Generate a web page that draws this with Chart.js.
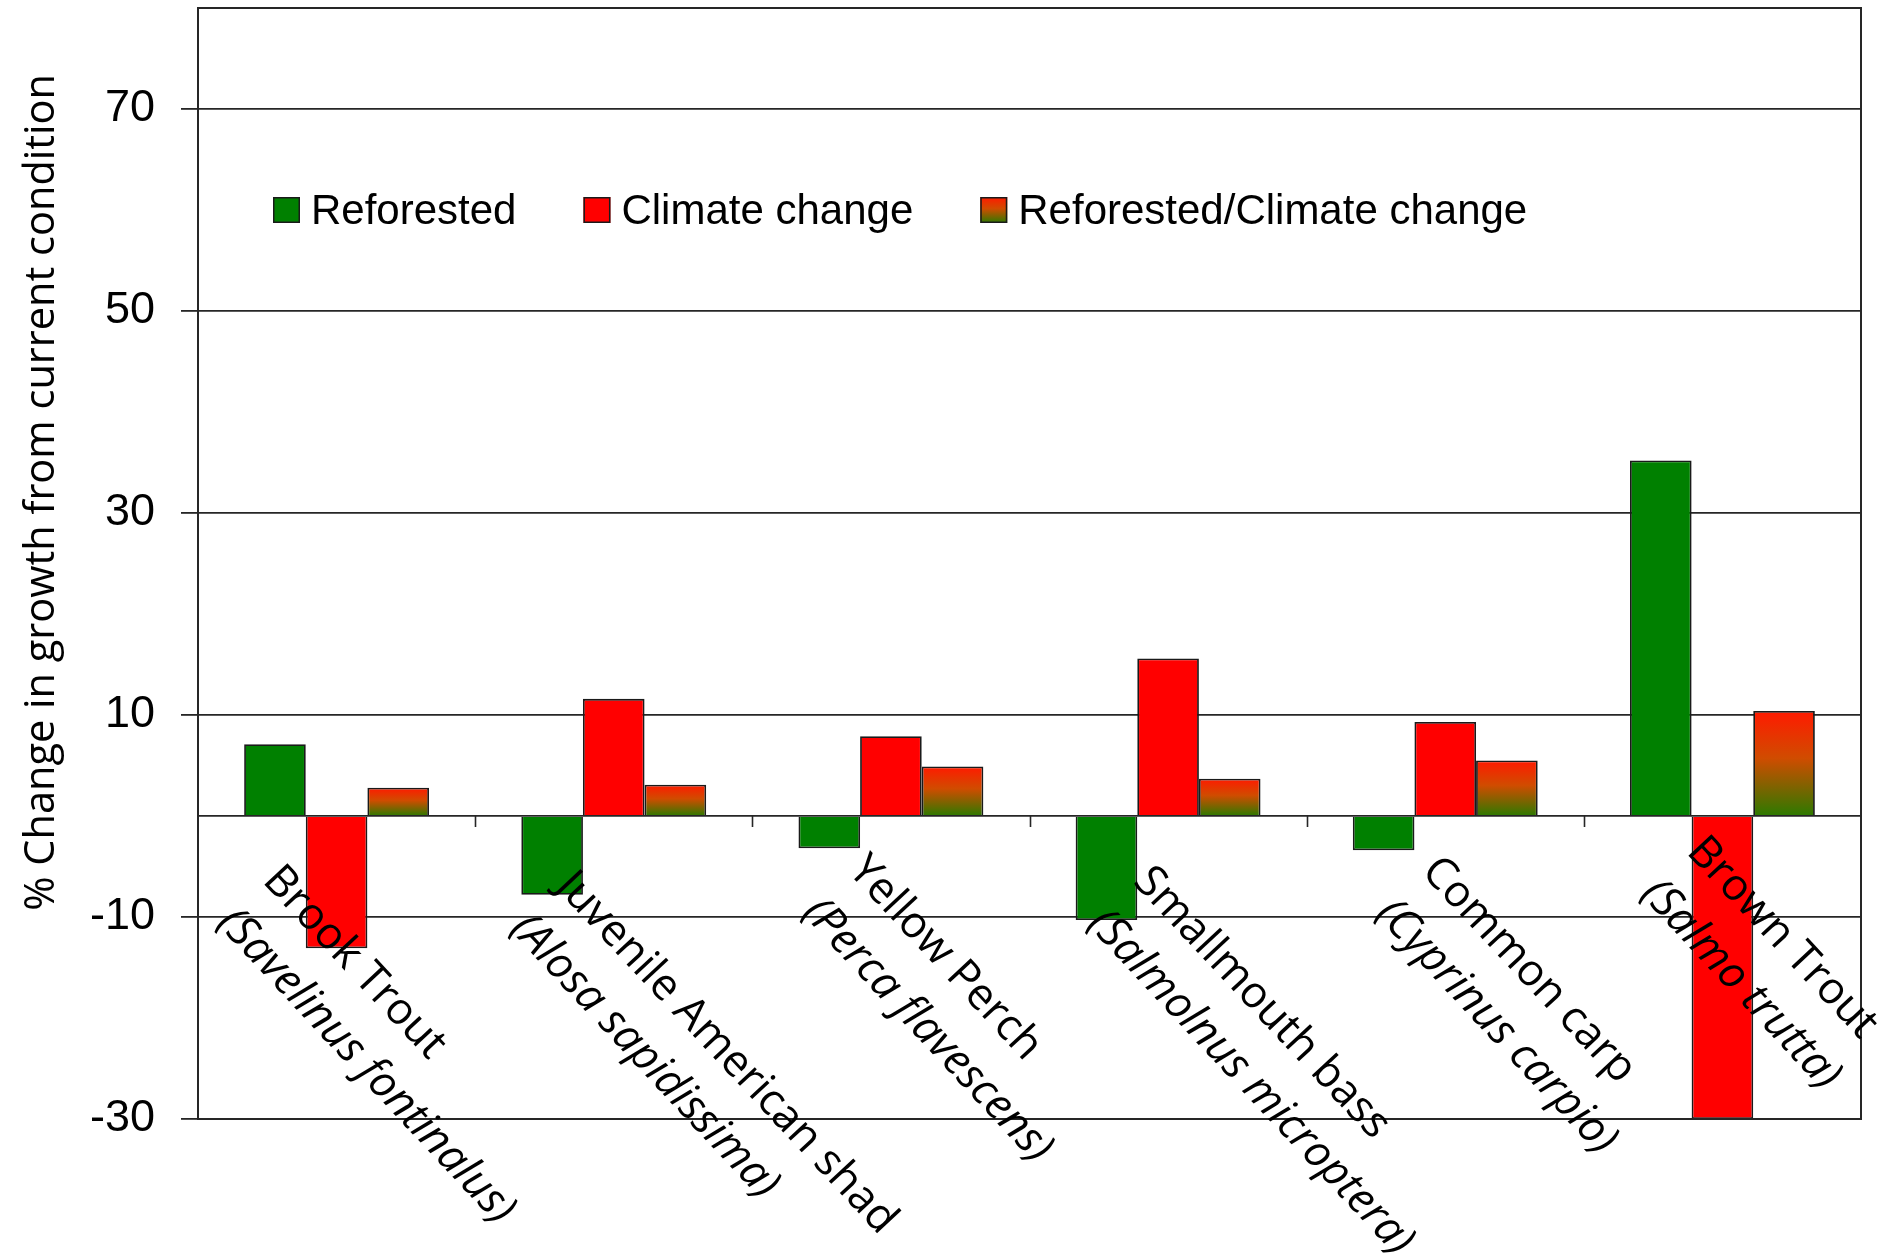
<!DOCTYPE html>
<html>
<head>
<meta charset="utf-8">
<title>Fish growth change</title>
<script src="https://cdn.jsdelivr.net/npm/chart.js@4.4.1/dist/chart.umd.min.js"></script>
<style>
  html, body { margin: 0; padding: 0; background: #ffffff; }
  #wrap { position: relative; width: 1878px; height: 1253px; }
</style>
</head>
<body>
<div id="wrap"><canvas id="chart"></canvas></div>
<script>
// Species (common name, scientific name)
const species = [
  ['Brook Trout', '(Savelinus fontinalus)'],
  ['Juvenile American shad', '(Alosa sapidissima)'],
  ['Yellow Perch', '(Perca flavescens)'],
  ['Smallmouth bass', '(Salmolnus microptera)'],
  ['Common carp', '(Cyprinus carpio)'],
  ['Brown Trout', '(Salmo trutta)']
];
const seriesNames = ['Reforested', 'Climate change', 'Reforested/Climate change'];
// % change in growth from current condition
const reforested        = [7.1, -7.8, -3.2, -10.3, -3.4, 35.2];
const climateChange     = [-13.1, 11.6, 7.9, 15.6, 9.3, -30];
const reforestedClimate = [2.8, 3.1, 4.9, 3.7, 5.5, 10.4];
const yTickValues = [-30, -10, 10, 30, 50, 70];
const yMin = -30;
const yMax = 80;

const AXIS_FONT = '"Liberation Sans", Arial, sans-serif';
const LABEL_FONT = '"Open Sans", sans-serif';
const LINE_COLOR = '#262626';

// red-over-green fill used by the combined scenario
function addRedGreenStops(g) {
  g.addColorStop(0, '#ff1a00');
  g.addColorStop(0.45, '#d04c00');
  g.addColorStop(1, '#2c7a00');
  return g;
}

function combinedFill(context) {
  const chart = context.chart;
  const { ctx, chartArea, scales } = chart;
  if (!chartArea || !scales.y || context.type !== 'data') return '#c85000';
  const y0 = scales.y.getPixelForValue(0);
  const y1 = scales.y.getPixelForValue(context.raw);
  const top = Math.min(y0, y1), bottom = Math.max(y0, y1);
  if (bottom - top < 1) return '#c85000';
  return addRedGreenStops(ctx.createLinearGradient(0, top, 0, bottom));
}

// plot frame, zero-line category ticks
const framePlugin = {
  id: 'frame',
  beforeDatasetsDraw(chart) {
    const { ctx, scales } = chart;
    const x = scales.x, y = scales.y;
    const zero = y.getPixelForValue(0);
    ctx.save();
    ctx.strokeStyle = LINE_COLOR;
    ctx.lineWidth = 1.6;
    for (let i = 1; i < species.length; i++) {
      const bx = Math.round((x.getPixelForValue(i - 1) + x.getPixelForValue(i)) / 2) + 0.5;
      ctx.beginPath();
      ctx.moveTo(bx, zero);
      ctx.lineTo(bx, zero + 11);
      ctx.stroke();
    }
    ctx.restore();
  },
  afterDatasetsDraw(chart) {
    const { ctx, chartArea: a } = chart;
    ctx.save();
    ctx.strokeStyle = LINE_COLOR;
    ctx.lineWidth = 2;
    ctx.strokeRect(a.left, a.top, a.right - a.left, a.bottom - a.top);
    ctx.restore();
  }
};

// rotated two-line species labels (common name upright, scientific name italic)
const speciesLabelPlugin = {
  id: 'speciesLabels',
  afterDatasetsDraw(chart, args, opts) {
    const { ctx, scales } = chart;
    const zero = scales.y.getPixelForValue(0);
    const size = opts.size;
    const capH = size * 0.714;
    ctx.save();
    ctx.fillStyle = '#000000';
    ctx.textAlign = 'left';
    ctx.textBaseline = 'alphabetic';
    species.forEach((lines, i) => {
      const n = opts.nudge[i];
      const ax = scales.x.getPixelForValue(i) + n[0];
      const ay = zero + n[1];
      ctx.save();
      ctx.translate(ax, ay);
      ctx.rotate(opts.angle * Math.PI / 180);
      ctx.font = size + 'px ' + LABEL_FONT;
      ctx.fillText(lines[0], 0, capH);
      ctx.font = 'italic ' + size + 'px ' + LABEL_FONT;
      ctx.fillText(lines[1], 0, capH + opts.lineGap);
      ctx.restore();
    });
    ctx.restore();
  }
};

// legend row inside the plot
const legendRowPlugin = {
  id: 'legendRow',
  afterDatasetsDraw(chart, args, opts) {
    const { ctx, chartArea: a } = chart;
    let x = a.left + opts.offsetX;
    const cy = a.top + opts.offsetY;
    const bw = 27, bh = 26;
    ctx.save();
    ctx.font = opts.size + 'px ' + AXIS_FONT;
    ctx.textBaseline = 'middle';
    ctx.textAlign = 'left';
    chart.data.datasets.forEach((ds, i) => {
      const top = cy - bh / 2;
      let fill = ds.legendColor;
      if (i === 2) fill = addRedGreenStops(ctx.createLinearGradient(0, top, 0, top + bh));
      ctx.fillStyle = fill;
      ctx.fillRect(x, top, bw, bh);
      ctx.strokeStyle = '#1a1a1a';
      ctx.lineWidth = 1.5;
      ctx.strokeRect(x + 0.75, top + 0.75, bw - 1.5, bh - 1.5);
      ctx.fillStyle = '#000000';
      const tx = x + bw + 11;
      ctx.fillText(ds.label, tx, cy + 2);
      x = tx + ctx.measureText(ds.label).width + opts.gap;
    });
    ctx.restore();
  }
};

// rotated value-axis title
const axisTitlePlugin = {
  id: 'axisTitle',
  afterDraw(chart, args, opts) {
    const { ctx, chartArea: a } = chart;
    ctx.save();
    ctx.translate(opts.baselineX, a.top + opts.centerFrac * (a.bottom - a.top));
    ctx.rotate(-Math.PI / 2);
    ctx.font = opts.size + 'px ' + LABEL_FONT;
    ctx.fillStyle = '#000000';
    ctx.textAlign = 'center';
    ctx.textBaseline = 'alphabetic';
    ctx.fillText(opts.text, 0, 0);
    ctx.restore();
  }
};

new Chart(document.getElementById('chart'), {
  type: 'bar',
  data: {
    labels: species.map(s => s[0]),
    datasets: [
      { label: seriesNames[0], data: reforested, backgroundColor: '#008000', legendColor: '#008000',
        borderColor: '#1a1a1a', borderWidth: 1.8 },
      { label: seriesNames[1], data: climateChange, backgroundColor: '#ff0000', legendColor: '#ff0000',
        borderColor: '#1a1a1a', borderWidth: 1.8 },
      { label: seriesNames[2], data: reforestedClimate, backgroundColor: combinedFill, legendColor: '#c85000',
        borderColor: '#1a1a1a', borderWidth: 1.8 }
    ]
  },
  options: {
    responsive: true,
    maintainAspectRatio: false,
    devicePixelRatio: 1,
    animation: false,
    categoryPercentage: 0.667,
    barPercentage: 1.0,
    layout: { padding: { top: 8, right: 17, bottom: 134, left: 0 } },
    scales: {
      x: { display: false, offset: true },
      y: {
        min: yMin,
        max: yMax,
        afterBuildTicks(scale) {
          scale.ticks = [...yTickValues, 0].sort((a, b) => a - b).map(v => ({ value: v }));
        },
        afterFit(scale) {
          scale.width = 198;
          scale.paddingTop = 0;
          scale.paddingBottom = 0;
        },
        ticks: {
          callback: v => (v === 0 ? '' : String(v)),
          font: { family: AXIS_FONT, size: 45 },
          color: '#000000',
          padding: 26,
          autoSkip: false
        },
        grid: {
          color: LINE_COLOR,
          lineWidth: 1.8,
          tickLength: 17,
          tickColor: c => (c.tick && c.tick.value === 0 ? 'rgba(0,0,0,0)' : LINE_COLOR)
        },
        border: { display: true, color: LINE_COLOR, width: 2 }
      }
    },
    plugins: {
      legend: { display: false },
      tooltip: { enabled: false },
      legendRow: { offsetX: 75, offsetY: 202, size: 42, gap: 67 },
      axisTitle: { text: '% Change in growth from current condition', size: 41.5, baselineX: 54, centerFrac: 0.436 },
      speciesLabels: {
        size: 44,
        angle: 47,
        lineGap: 62,
        nudge: [[-52, 44], [-36, 50], [-21, 34], [-13, 45], [-2, 35], [-14, 15]]
      }
    }
  },
  plugins: [framePlugin, speciesLabelPlugin, legendRowPlugin, axisTitlePlugin]
});
</script>
</body>
</html>
